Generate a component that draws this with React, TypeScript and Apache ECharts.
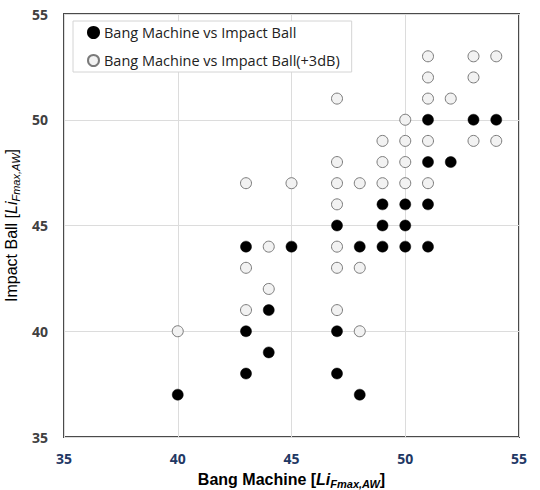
import React, { useEffect, useRef } from "react";
import * as echarts from "echarts";

// Bang Machine vs Impact Ball (filled)
const bangX: number[] = [51, 53, 54, 51, 52, 49, 50, 51, 47, 49, 50, 43, 45, 48, 49, 50, 51, 44, 43, 47, 44, 43, 47, 40, 48];
const impactY: number[] = [50, 50, 50, 48, 48, 46, 46, 46, 45, 45, 45, 44, 44, 44, 44, 44, 44, 41, 40, 40, 39, 38, 38, 37, 37];

// Bang Machine vs Impact Ball(+3dB) (hollow)
const bangX3: number[] = [51, 53, 54, 51, 53, 47, 51, 52, 50, 49, 50, 51, 53, 54, 47, 49, 50, 43, 45, 47, 48, 49, 50, 51, 47, 44, 47, 43, 47, 48, 44, 43, 47, 40, 48];
const impactY3: number[] = [53, 53, 53, 52, 52, 51, 51, 51, 50, 49, 49, 49, 49, 49, 48, 48, 48, 47, 47, 47, 47, 47, 47, 47, 46, 44, 44, 43, 43, 43, 42, 41, 41, 40, 40];

const seriesNames: string[] = ["Bang Machine vs Impact Ball", "Bang Machine vs Impact Ball(+3dB)"];
const axisMin = 35;
const axisMax = 55;
const axisStep = 5;

export default function App() {
  const ref = useRef<HTMLDivElement>(null);
  useEffect(() => {
    document.body.style.margin = "0";
    if (!ref.current) return;
    const chart = echarts.init(ref.current, null, { renderer: "svg" });
    const nameRich = (bold: boolean) => ({
      i: { fontStyle: "italic", fontSize: 16, fontWeight: bold ? "bold" : "normal", fontFamily: "Liberation Sans", color: "#000", lineHeight: 20 },
      s: { fontStyle: "italic", fontSize: 11, fontWeight: bold ? "bold" : "normal", fontFamily: "Liberation Sans", color: "#000", lineHeight: 13, verticalAlign: "bottom" },
    });
    chart.setOption({
      animation: false,
      backgroundColor: "#fff",
      grid: {
        left: 64,
        right: 21,
        top: 14,
        bottom: 53,
        show: true,
        borderColor: "#4a4a4a",
        borderWidth: 2,
        backgroundColor: "transparent",
        outerBoundsMode: "none",
      },
      legend: {
        orient: "vertical",
        left: 73,
        top: 21,
        padding: [4, 12, 4, 14],
        itemGap: 13,
        itemWidth: 11,
        itemHeight: 11,
        backgroundColor: "#fff",
        borderColor: "#d4d4d4",
        borderWidth: 1,
        textStyle: { fontFamily: "Open Sans", fontSize: 14.5, color: "#222" },
        data: seriesNames.map((n) => ({ name: n, icon: "circle" })),
      },
      xAxis: {
        type: "value",
        min: axisMin,
        max: axisMax,
        interval: axisStep,
        name: "Bang Machine [{i|Li}{s|Fmax,AW}]",
        nameLocation: "middle",
        nameGap: 32,
        nameTextStyle: { fontFamily: "Liberation Sans", fontSize: 16, fontWeight: "bold", color: "#000", lineHeight: 20, rich: nameRich(true) },
        axisLine: { show: false },
        axisTick: { show: false },
        axisLabel: { color: "#1f3864", fontWeight: "bold", fontSize: 14, fontFamily: "Open Sans", margin: 14 },
        splitLine: { show: true, lineStyle: { color: "#dcdcdc", width: 1 } },
      },
      yAxis: {
        type: "value",
        min: axisMin,
        max: axisMax,
        interval: axisStep,
        name: "Impact Ball [{i|Li}{s|Fmax,AW}]",
        nameLocation: "middle",
        nameGap: 35,
        nameTextStyle: { fontFamily: "Liberation Sans", fontSize: 16, fontWeight: "normal", color: "#000", lineHeight: 20, rich: nameRich(false) },
        axisLine: { show: false },
        axisTick: { show: false },
        axisLabel: { color: "#404040", fontWeight: "bold", fontSize: 14, fontFamily: "Open Sans", margin: 16 },
        splitLine: { show: true, lineStyle: { color: "#dcdcdc", width: 1 } },
      },
      series: [
        {
          name: seriesNames[0],
          type: "scatter",
          symbol: "circle",
          symbolSize: 11,
          itemStyle: { color: "#000", borderColor: "#000", borderWidth: 0.5, opacity: 1 },
          data: bangX.map((x, i) => [x, impactY[i]]),
          z: 3,
        },
        {
          name: seriesNames[1],
          type: "scatter",
          symbol: "circle",
          symbolSize: 11,
          itemStyle: { color: "#f2f2f2", borderColor: "#7a7a7a", borderWidth: 1, opacity: 1 },
          data: bangX3.map((x, i) => [x, impactY3[i]]),
          z: 2,
        },
      ],
    });
    return () => chart.dispose();
  }, []);
  return <div ref={ref} style={{ width: 540, height: 490 }} />;
}
